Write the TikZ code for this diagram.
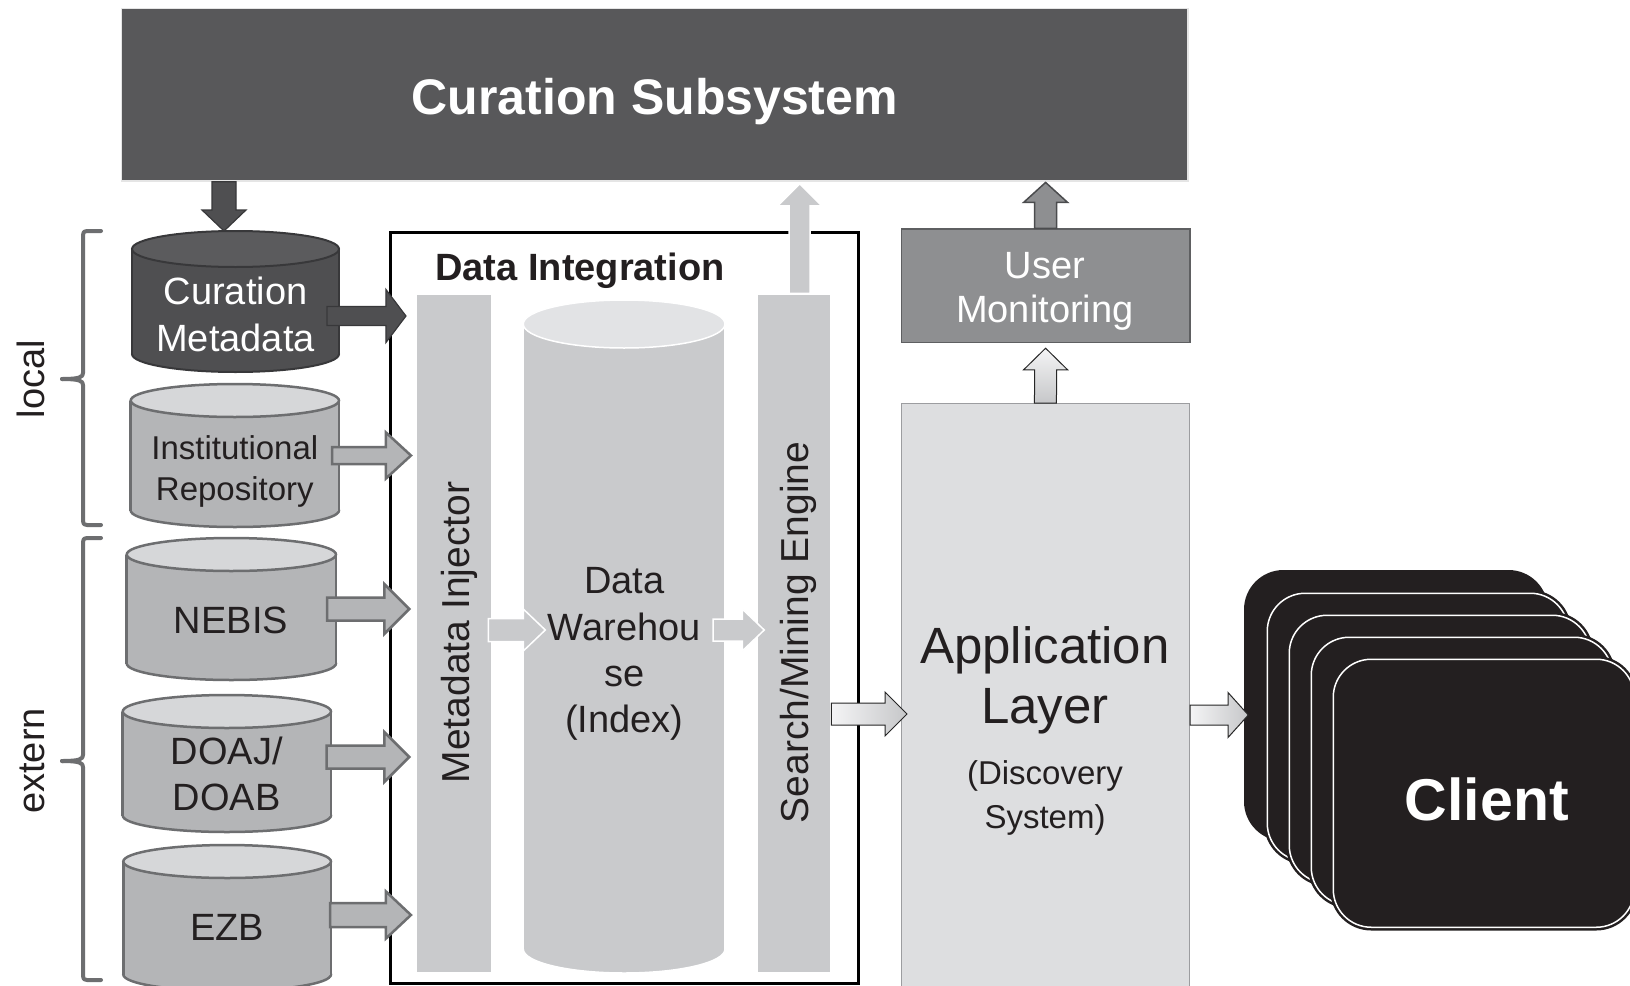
\documentclass[tikz,border=0pt]{standalone}
\usepackage{fontspec}
\setmainfont{Liberation Sans}
\usetikzlibrary{calc}
\definecolor{csgray}{HTML}{58585A}
\definecolor{cmbody}{HTML}{4F4F51}
\definecolor{cmtop}{HTML}{5B5B5D}
\definecolor{cmline}{HTML}{38383A}
\definecolor{gbody}{HTML}{B4B5B7}
\definecolor{gtop}{HTML}{D6D7D9}
\definecolor{gline}{HTML}{6D6E70}
\definecolor{innerc}{HTML}{C9CACC}
\definecolor{innertop}{HTML}{E2E3E5}
\definecolor{appfill}{HTML}{DDDEE0}
\definecolor{appline}{HTML}{9C9DA0}
\definecolor{umfill}{HTML}{8E8F91}
\definecolor{umline}{HTML}{5E5F61}
\definecolor{clientc}{HTML}{231F20}
\definecolor{txt}{HTML}{231F20}
\definecolor{olight}{HTML}{F4F4F5}
\definecolor{odark}{HTML}{C6C7C9}

% cylinder: #1 name, #2 L, #3 T, #4 R, #5 B, #6 ry, #7 body, #8 top, #9 line
\newcommand\dbcyl[9]{%
  \pgfmathsetmacro\cyx{(#2+#4)/2}%
  \pgfmathsetmacro\cyrx{(#4-#2)/2}%
  \pgfmathsetmacro\cyt{#3+#6}%
  \pgfmathsetmacro\cyb{#5-#6}%
  \pgfmathsetmacro\cyw{#4-#2}%
  \pgfmathsetmacro\cyh{#5-#3}%
  \pgfmathsetmacro\cym{(#3+#5)/2}%
  \node[inner sep=0pt, outer sep=0pt, minimum width=\cyw pt, minimum height=\cyh pt] (#1) at (\cyx,\cym) {};
  \filldraw[fill=#7, draw=#9, cylline] (\cyx,\cyb) ellipse [x radius=\cyrx, y radius=#6];
  \fill[#7] (#2,\cyt) rectangle (#4,\cyb);
  \draw[#9, cylline] (#2,\cyt) -- (#2,\cyb) (#4,\cyt) -- (#4,\cyb);
  \filldraw[fill=#8, draw=#9, cylline] (\cyx,\cyt) ellipse [x radius=\cyrx, y radius=#6];
}
% horizontal block arrow: #1 style, #2 start, #3 tip, #4 shaft half width, #5 head half width, #6 head length
\newcommand\blockH[6]{\draw[#1] ($(#2)+(0,-#4)$) -- ($(#3)+(-#6,-#4)$) -- ($(#3)+(-#6,-#5)$) -- (#3) -- ($(#3)+(-#6,#5)$) -- ($(#3)+(-#6,#4)$) -- ($(#2)+(0,#4)$) -- cycle;}
% vertical block arrow (head length positive = pointing up)
\newcommand\blockV[6]{\draw[#1] ($(#2)+(-#4,0)$) -- ($(#3)+(-#4,#6)$) -- ($(#3)+(-#5,#6)$) -- (#3) -- ($(#3)+(#5,#6)$) -- ($(#3)+(#4,#6)$) -- ($(#2)+(#4,0)$) -- cycle;}

\begin{document}
\begin{tikzpicture}[x=1pt,y=-1pt,
  cylline/.style={line width=2.5pt},
  csbox/.style={fill=csgray, draw=white!80!gray, line width=1.5pt, inner sep=0pt},
  barbox/.style={fill=innerc, draw=white, line width=1.5pt, inner sep=0pt},
  appbox/.style={fill=appfill, draw=appline, line width=1.2pt, inner sep=0pt},
  umbox/.style={fill=umfill, draw=umline, line width=1.5pt, inner sep=0pt},
  dibox/.style={draw=black, line width=3pt, inner sep=0pt},
  cardback/.style={fill=clientc, draw=clientc, line width=3pt, rounded corners=38pt, inner sep=0pt, minimum width=301pt, minimum height=268pt, anchor=north west},
  cardfront/.style={cardback, double=white, double distance=1.5pt, draw=clientc, line width=2.5pt},
  darrow/.style={fill=cmbody, draw=cmline, line width=1.2pt, line join=miter},
  garrow/.style={fill=gbody, draw=gline, line width=2.5pt, line join=miter},
  iarrow/.style={fill=innerc, draw=white, line width=1.5pt, line join=miter},
  oarrowh/.style={left color=olight, right color=odark, draw=black!85, line width=1pt, line join=miter},
  oarrowv/.style={top color=olight, bottom color=odark, draw=black!85, line width=1pt, line join=miter},
  umarrow/.style={fill=umfill, draw=umline!80!black, line width=1.5pt, line join=miter},
  brk/.style={draw=gline, line width=4pt, line cap=round, line join=round},
  fL/.style={font=\fontsize{38}{42}\selectfont},
  fM/.style={font=\fontsize{33}{37}\selectfont},
  fDW/.style={font=\fontsize{38}{42}\selectfont},
  fR/.style={font=\fontsize{39}{43}\selectfont},
  fAL/.style={font=\fontsize{51}{56}\selectfont},
  fDS/.style={font=\fontsize{33}{37}\selectfont},
  fCS/.style={font=\fontsize{50}{55}\selectfont\bfseries},
  fDI/.style={font=\fontsize{38}{42}\selectfont\bfseries},
  fCL/.style={font=\fontsize{59}{64}\selectfont\bfseries},
  every node/.append style={inner sep=0pt}
]
\useasboundingbox (0,0) rectangle (1630,985);
\fill[white] (0,0) rectangle (1630,985);

% Curation Subsystem
\node[csbox, minimum width=1066.4pt, minimum height=172.7pt] (cs) at (654.8,94.65) {};
\node[fCS, text=white, anchor=base] (cst) at (654.8,114) {Curation Subsystem};

% brackets
\draw[brk] (101,231) -- (87,231) .. controls (84,231) and (83,232) .. (83,235) -- (83,373) .. controls (83,377) and (80,379) .. (62,379);
\draw[brk] (62,379) .. controls (80,379) and (83,381) .. (83,385) -- (83,521) .. controls (83,524) and (84,525) .. (87,525) -- (101,525);
\draw[brk] (101,538) -- (87,538) .. controls (84,538) and (83,539) .. (83,542) -- (83,755) .. controls (83,759) and (80,761) .. (62,761);
\draw[brk] (62,761) .. controls (80,761) and (83,763) .. (83,767) -- (83,976) .. controls (83,979) and (84,980) .. (87,980) -- (101,980);
\node[fL, text=txt, rotate=90, anchor=base] (loc) at (44.5,379) {local};
\node[fL, text=txt, rotate=90, anchor=base] (ext) at (44.5,761) {extern};

% source cylinders
\tikzset{cylline/.style={line width=2pt}}
\dbcyl{cm}{132}{231}{339}{372}{18}{cmbody}{cmtop}{cmline}
\tikzset{cylline/.style={line width=2.5pt}}
\dbcyl{ir}{130.7}{384}{339}{527}{16.5}{gbody}{gtop}{gline}
\dbcyl{nb}{126.7}{538}{336}{680}{16.5}{gbody}{gtop}{gline}
\dbcyl{dj}{122.7}{695}{331}{832}{16.5}{gbody}{gtop}{gline}
\dbcyl{ez}{123.3}{845}{331}{991}{16.5}{gbody}{gtop}{gline}

\node[fL, text=white, anchor=base] (cmt1) at (235.5,304) {Curation};
\node[fL, text=white, anchor=base] (cmt2) at (235.5,351) {Metadata};
\node[fM, text=txt, anchor=base] (irt1) at (234.8,459) {Institutional};
\node[fM, text=txt, anchor=base] (irt2) at (234.8,500) {Repository};
\node[fL, text=txt, anchor=base] (nbt) at (231,633) {NEBIS};
\node[fL, text=txt, anchor=base] (djt1) at (226.8,764) {DOAJ/};
\node[fL, text=txt, anchor=base] (djt2) at (226.8,810) {DOAB};
\node[fL, text=txt, anchor=base] (ezt) at (227,940) {EZB};

% Data Integration
\node[dibox, minimum width=468pt, minimum height=751pt] (di) at (624,607.5) {};
\node[fDI, text=txt, anchor=base] (dit) at (580,280) {Data Integration};
\node[barbox, minimum width=75pt, minimum height=679pt] (mi) at (454.2,633.5) {};
\node[barbox, minimum width=73pt, minimum height=679pt] (se) at (794.2,633.5) {};
\tikzset{cylline/.style={line width=1.5pt}}
\dbcyl{dw}{523.3}{300}{725}{973}{24}{innerc}{innertop}{white}
\node[fR, text=txt, rotate=90, anchor=base] (mit) at (469,632.5) {Metadata Injector};
\node[fR, text=txt, rotate=90, anchor=base] (set) at (808,632.5) {Search/Mining Engine};
\node[fDW, text=txt, anchor=base] (dwt1) at (624.2,593) {Data};
\node[fDW, text=txt, anchor=base] (dwt2) at (624.2,640) {Warehou};
\node[fDW, text=txt, anchor=base] (dwt3) at (624.2,686) {se};
\node[fDW, text=txt, anchor=base] (dwt4) at (624.2,732) {(Index)};

% right column
\node[umbox, minimum width=288.3pt, minimum height=113.4pt, anchor=north west] (um) at (900.7,228.3) {};
\node[appbox, minimum width=288.3pt, minimum height=590pt, anchor=north west] (al) at (900.7,403) {};
\node[fL, text=white, anchor=base] (umt1) at (1044.85,278) {User};
\node[fL, text=white, anchor=base] (umt2) at (1044.85,322) {Monitoring};
\node[fAL, text=txt, anchor=base] (alt1) at (1045,663) {Application};
\node[fAL, text=txt, anchor=base] (alt2) at (1045,723) {Layer};
\node[fDS, text=txt, anchor=base] (alt3) at (1045,784) {(Discovery};
\node[fDS, text=txt, anchor=base] (alt4) at (1045,828) {System)};

% clients
\node[cardback] (c0) at (1244,570) {};
\node[cardfront] (c1) at (1266,592) {};
\node[cardfront] (c2) at (1288,614) {};
\node[cardfront] (c3) at (1310,636) {};
\node[cardfront] (c4) at (1332,658) {};
\node[fCL, text=white, anchor=base] (clt) at ($(c4.center)+(3,27)$) {Client};

% connectors (block arrows)
\coordinate (t0) at ($(cm.north)+(-11.5,0)$);
\coordinate (s0) at (t0 |- cs.south);
\blockV{darrow}{s0}{t0}{12}{22}{-21}

\coordinate (s1) at ($(cm.east)+(-12,14.5)$);
\coordinate (t1) at ($(s1 -| mi.west)+(-10,0)$);
\blockH{darrow}{s1}{t1}{9.5}{26.5}{20}

\coordinate (s2) at ($(ir.east)+(-7,0)$);
\coordinate (t2) at ($(s2 -| mi.west)+(-5,0)$);
\blockH{garrow}{s2}{t2}{8.5}{23}{25}

\coordinate (s3) at ($(nb.east)+(-9,0)$);
\coordinate (t3) at ($(s3 -| mi.west)+(-6.7,0)$);
\blockH{garrow}{s3}{t3}{11.5}{25}{25}

\coordinate (s4) at ($(dj.east)+(-4.3,-6.5)$);
\coordinate (t4) at ($(s4 -| mi.west)+(-6.7,0)$);
\blockH{garrow}{s4}{t4}{11.5}{25}{25}

\coordinate (s5) at ($(ez.east)+(-1,-3)$);
\coordinate (t5) at ($(s5 -| mi.west)+(-5,0)$);
\blockH{garrow}{s5}{t5}{12}{23.5}{25}

\coordinate (s6) at ($(mi.east)+(-4,-3.5)$);
\coordinate (t6) at ($(s6 -| dw.west)+(22,0)$);
\blockH{iarrow}{s6}{t6}{11.5}{21}{22}

\coordinate (s7) at ($(dw.east)+(-12,-6.5)$);
\coordinate (t7) at ($(s7 -| se.west)+(7.3,0)$);
\blockH{iarrow}{s7}{t7}{11}{21}{22}

\coordinate (s8) at ($(se.north)+(5.5,0)$);
\coordinate (t8) at ($(s8 |- cs.south)+(0,2)$);
\blockV{iarrow}{s8}{t8}{10.5}{22}{22}

\coordinate (s9) at ($(se.east)+(0,80.5)$);
\coordinate (t9) at ($(s9 -| al.west)+(6.3,0)$);
\blockH{oarrowh}{s9}{t9}{11}{22}{22}

\coordinate (s10) at (al.north);
\coordinate (t10) at ($(um.south)+(0,5)$);
\blockV{oarrowv}{s10}{t10}{11}{22}{21.6}

\coordinate (s11) at (um.north);
\coordinate (t11) at ($(s11 |- cs.south)+(0,0.7)$);
\blockV{umarrow}{s11}{t11}{11}{22}{20}

\coordinate (s12) at ($(al.north east)+(0,312)$);
\coordinate (t12) at ($(s12 -| c0.west)+(4.3,0)$);
\blockH{oarrowh}{s12}{t12}{10}{22.5}{20.3}

\end{tikzpicture}
\end{document}
